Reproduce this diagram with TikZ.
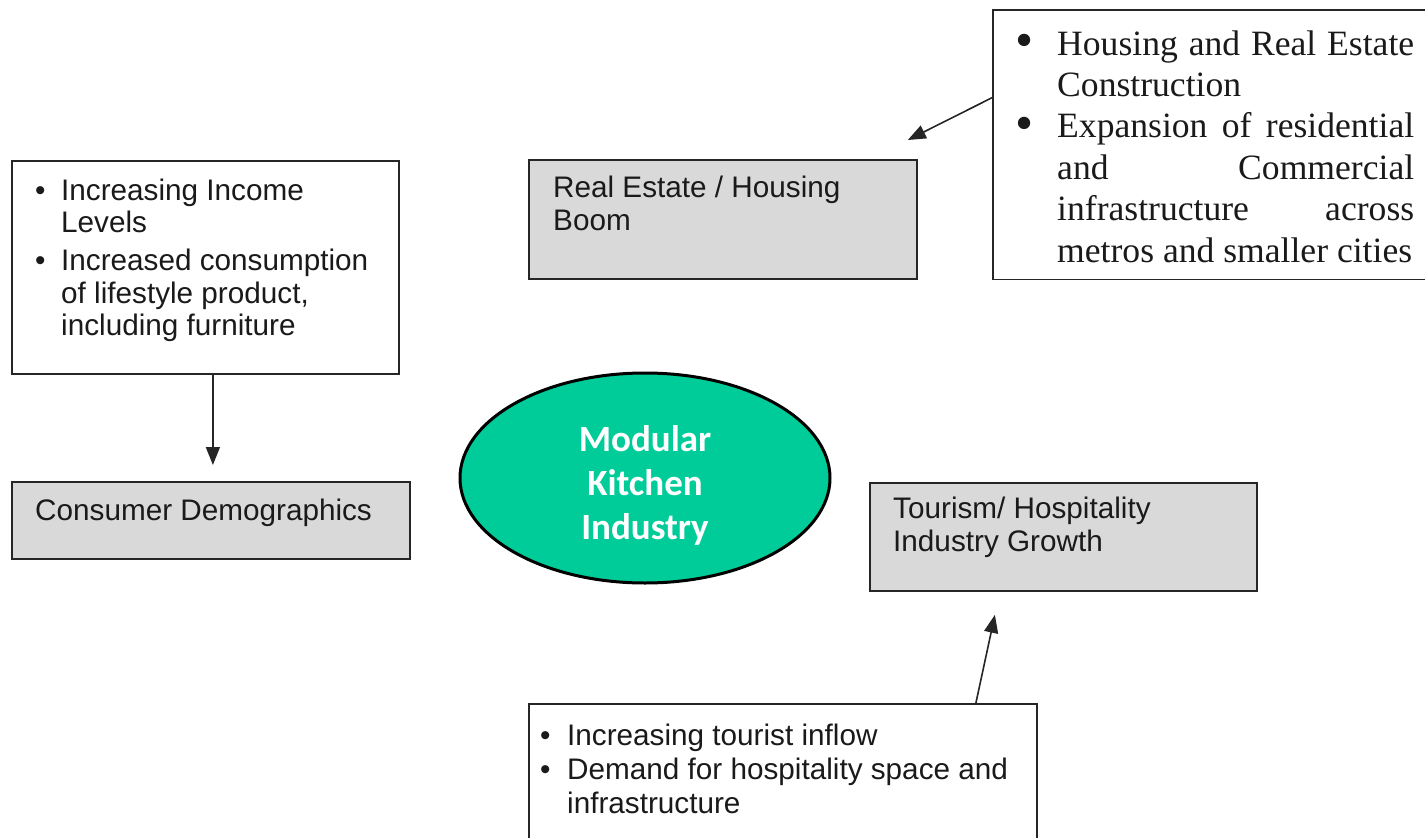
\documentclass[tikz,border=0pt]{standalone}
\usepackage{fontspec}
\setmainfont{Liberation Serif}
\setsansfont{Liberation Sans}
\newfontfamily\hubfont{Carlito}
\usetikzlibrary{shapes.geometric,arrows.meta}
\definecolor{boxgray}{HTML}{D9D9D9}
\definecolor{hubgreen}{HTML}{00CC99}
\definecolor{edge}{HTML}{262626}
\definecolor{ink}{HTML}{1A1A1A}
% heavier bullet for the serif list
\newcommand{\bigdot}{\raisebox{-0.08em}{\scalebox{1.45}{\textbullet}}}

\begin{document}
\begin{tikzpicture}[x=1pt,y=-1pt,
  frame/.style={draw=edge, line width=1.8pt, rectangle, inner sep=0pt, anchor=north west},
  graybox/.style={frame, fill=boxgray},
  whitebox/.style={frame, fill=white},
  sanslabel/.style={anchor=base west, inner sep=0pt, text=ink,
    font=\sffamily\fontsize{29.7}{33.5}\selectfont},
  seriflabel/.style={anchor=base west, inner sep=0pt, text=ink,
    font=\rmfamily\fontsize{35.6}{41.4}\selectfont},
  hubtext/.style={inner sep=0pt, text=white,
    font=\hubfont\bfseries\fontsize{37}{44}\selectfont},
  link/.style={draw=edge, line width=1.6pt, -{Triangle[length=18pt,width=14pt]}},
]
% canvas, clipped to the page
\useasboundingbox (0,0) rectangle (1425,838);
\clip (0,0) rectangle (1425,838);
\fill[white] (0,0) rectangle (1425,838);

% central hub
\node[ellipse, draw=black, line width=3pt, fill=hubgreen,
      minimum width=370pt, minimum height=210pt, inner sep=0pt] (hub) at (645,478) {};
\node[hubtext] (hublabel) at (645,487)
  {\begin{tabular}{@{}c@{}}Modular\\Kitchen\\Industry\end{tabular}};

% consumer demographics branch
\node[whitebox, minimum width=387pt, minimum height=213pt] (incomebox) at (11,160) {};
\node[sanslabel, font=\sffamily\fontsize{29.7}{32.5}\selectfont] (incometext) at (35,200)
  {\begin{tabular}[t]{@{}p{26pt}@{}l@{}}
   \textbullet & Increasing Income\\
               & Levels\\[5.5pt]
   \textbullet & Increased consumption\\
               & of lifestyle product,\\
               & including furniture
   \end{tabular}};
\node[graybox, minimum width=398pt, minimum height=77pt] (consbox) at (11,481) {};
\node[sanslabel] (constext) at (35,520) {Consumer Demographics};

% real estate branch
\node[graybox, minimum width=388pt, minimum height=119pt] (realbox) at (528,159) {};
\node[sanslabel] (realtext) at (553,197)
  {\begin{tabular}[t]{@{}l@{}}Real Estate / Housing\\Boom\end{tabular}};
% this box runs off the right edge: only three sides are drawn
\node[rectangle, fill=white, inner sep=0pt, anchor=north west,
      minimum width=480pt, minimum height=269pt] (housingbox) at (993,10) {};
\draw[edge, line width=1.8pt] (housingbox.north east) -- (housingbox.north west)
  -- (housingbox.south west) -- (housingbox.south east);
\node[seriflabel] (housingtext) at (1015,55)
  {\begin{tabular}[t]{@{}p{42pt}@{}l@{}}
   \bigdot & \makebox[357pt][s]{Housing and Real Estate}\\
           & Construction\\
   \bigdot & \makebox[357pt][s]{Expansion of residential}\\
           & \makebox[357pt][s]{and Commercial}\\
           & \makebox[357pt][s]{infrastructure across}\\
           & metros and smaller cities
   \end{tabular}};

% tourism branch
\node[graybox, minimum width=387pt, minimum height=108pt] (tourbox) at (869,482) {};
\node[sanslabel] (tourtext) at (893,518)
  {\begin{tabular}[t]{@{}l@{}}Tourism/ Hospitality\\Industry Growth\end{tabular}};
\node[whitebox, minimum width=508pt, minimum height=150pt] (inflowbox) at (528,703) {};
\node[sanslabel] (inflowtext) at (540,745)
  {\begin{tabular}[t]{@{}p{27pt}@{}l@{}}
   \textbullet & Increasing tourist inflow\\[1pt]
   \textbullet & Demand for hospitality space and\\
               & infrastructure
   \end{tabular}};

% connectors
\draw[link, shorten >=16pt] ([xshift=7.5pt]incomebox.south)
  -- ([xshift=7.5pt]incomebox.south |- consbox.north);
\draw[link] ([yshift=47.5pt]housingbox.west)
  -- ([xshift=-10pt,yshift=19pt]realbox.north east);
\draw[link] ([xshift=193pt]inflowbox.north)
  -- ([xshift=-68.5pt,yshift=-23pt]tourbox.south);
\end{tikzpicture}
\end{document}
